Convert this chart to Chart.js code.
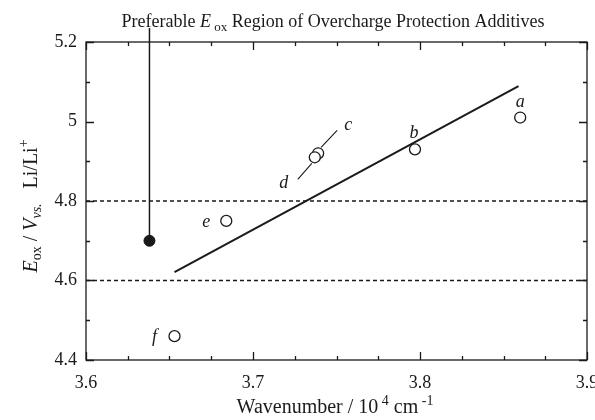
<!DOCTYPE html>
<html>
<head>
<meta charset="utf-8">
<script src="https://cdn.jsdelivr.net/npm/chart.js@4/dist/chart.umd.min.js"></script>
<style>
  html, body { margin: 0; padding: 0; background: #fff; }
  #wrap { width: 595px; height: 420px; }
</style>
</head>
<body>
<div id="wrap"><canvas id="eoxChart" width="595" height="420"></canvas></div>
<script>
// values
const additives = ['a', 'b', 'c', 'd', 'e', 'f'];
const wavenumber = [3.860, 3.797, 3.739, 3.737, 3.684, 3.653];
const eox = [5.01, 4.93, 4.92, 4.91, 4.75, 4.46];

const fitX = [3.653, 3.859];
const fitY = [4.621, 5.089];

const preferredX = [3.638];
const preferredY = [4.70];

const regionLimits = [4.8, 4.6];

const xTicks = [3.6, 3.7, 3.8, 3.9];
const xTickLabels = ['3.6', '3.7', '3.8', '3.9'];
const yTicks = [4.4, 4.6, 4.8, 5.0, 5.2];
const yTickLabels = ['4.4', '4.6', '4.8', '5', '5.2'];

const serif = '"Liberation Serif", "DejaVu Serif", serif';
const ink = '#1a1a1a';

// label offsets (px) from each open circle
const labelOffset = {
    a: [0, -15], b: [-1, -16], c: [30, -28], d: [-31, 26], e: [-20, 1], f: [-20, 1]
};

function drawRich(ctx, parts, x, y, align) {
    let w = 0;
    parts.forEach(p => {
        ctx.font = (p.i ? 'italic ' : '') + (p.s || 18) + 'px ' + serif;
        p.w = ctx.measureText(p.t).width;
        w += p.w;
    });
    let cx = align === 'center' ? x - w / 2 : x;
    parts.forEach(p => {
        ctx.font = (p.i ? 'italic ' : '') + (p.s || 18) + 'px ' + serif;
        ctx.fillText(p.t, cx, y + (p.dy || 0));
        cx += p.w;
    });
}

const decor = {
    id: 'decor',
    beforeDatasetsDraw(chart) {
        const { ctx, chartArea: a, scales: { x, y } } = chart;
        ctx.save();
        ctx.strokeStyle = ink;
        ctx.lineWidth = 1.3;
        // frame
        ctx.strokeRect(a.left, a.top, a.right - a.left, a.bottom - a.top);
        // inward ticks on all four sides
        ctx.beginPath();
        for (let i = 0; i <= 12; i++) {
            const v = 3.6 + i * 0.025;
            const px = Math.round(x.getPixelForValue(v)) + 0.5;
            const len = i % 4 === 0 ? 8 : 4;
            ctx.moveTo(px, a.bottom); ctx.lineTo(px, a.bottom - len);
            ctx.moveTo(px, a.top); ctx.lineTo(px, a.top + len);
        }
        for (let i = 0; i <= 8; i++) {
            const v = 4.4 + i * 0.1;
            const py = Math.round(y.getPixelForValue(v)) + 0.5;
            const len = i % 2 === 0 ? 8 : 4;
            ctx.moveTo(a.left, py); ctx.lineTo(a.left + len, py);
            ctx.moveTo(a.right, py); ctx.lineTo(a.right - len, py);
        }
        ctx.stroke();
        ctx.restore();
    },
    afterDatasetsDraw(chart) {
        const { ctx, chartArea: a, scales: { x, y } } = chart;
        ctx.save();
        ctx.fillStyle = ink;
        ctx.strokeStyle = ink;

        // leader from preferred point up to the heading
        ctx.lineWidth = 1.5;
        ctx.beginPath();
        const fx = x.getPixelForValue(preferredX[0]);
        ctx.moveTo(fx, y.getPixelForValue(preferredY[0]));
        ctx.lineTo(fx, 28);
        ctx.stroke();

        // point labels
        ctx.textAlign = 'center';
        ctx.textBaseline = 'middle';
        ctx.font = 'italic 18px ' + serif;
        additives.forEach((n, i) => {
            const px = x.getPixelForValue(wavenumber[i]);
            const py = y.getPixelForValue(eox[i]);
            const o = labelOffset[n];
            ctx.fillText(n, px + o[0], py + o[1]);
        });

        // leader lines for c and d
        ctx.lineWidth = 1.1;
        const cx = x.getPixelForValue(wavenumber[2]), cy = y.getPixelForValue(eox[2]);
        const dx = x.getPixelForValue(wavenumber[3]), dy = y.getPixelForValue(eox[3]);
        ctx.beginPath();
        ctx.moveTo(cx + 3, cy - 6); ctx.lineTo(cx + 19, cy - 23);
        ctx.moveTo(dx - 3, dy + 6); ctx.lineTo(dx - 17, dy + 22);
        ctx.stroke();

        // texts with sub/superscripts
        ctx.textAlign = 'left';
        ctx.textBaseline = 'alphabetic';
        drawRich(ctx, [
            { t: 'Preferable ' }, { t: 'E', i: true }, { t: ' ox', s: 13, dy: 4 },
            { t: ' Region of Overcharge Protection Additives' }
        ], 333, 27, 'center');

        drawRich(ctx, [
            { t: 'Wavenumber / 10', s: 20 }, { t: ' 4', s: 14, dy: -8 }, { t: ' cm', s: 20 }, { t: ' -1', s: 14, dy: -8 }
        ], 335, 413, 'center');

        ctx.translate(37, 206);
        ctx.rotate(-Math.PI / 2);
        drawRich(ctx, [
            { t: 'E', i: true, s: 20 }, { t: 'ox', s: 14, dy: 4 }, { t: ' / ', s: 20 }, { t: 'V', i: true, s: 20 },
            { t: 'vs.', i: true, s: 14, dy: 4 }, { t: '   Li/Li', s: 20 }, { t: '+', s: 14, dy: -9 }
        ], 0, 0, 'center');
        ctx.restore();
    }
};

const ctx = document.getElementById('eoxChart').getContext('2d');

const myChart = new Chart(ctx, {
    type: 'scatter',
    data: {
        datasets: [
            {
                label: 'additives',
                data: wavenumber.map((v, i) => ({ x: v, y: eox[i] })),
                pointRadius: 5.5,
                pointBorderWidth: 1.3,
                pointBackgroundColor: '#fff',
                pointBorderColor: ink,
                showLine: false
            },
            {
                label: 'preferred',
                data: preferredX.map((v, i) => ({ x: v, y: preferredY[i] })),
                pointRadius: 5.5,
                pointBackgroundColor: ink,
                pointBorderColor: ink,
                showLine: false
            },
            {
                label: 'fit',
                data: fitX.map((v, i) => ({ x: v, y: fitY[i] })),
                showLine: true,
                borderColor: ink,
                borderWidth: 2,
                pointRadius: 0,
                order: 2
            },
            ...regionLimits.map(v => ({
                label: 'limit ' + v,
                data: [{ x: 3.6, y: v }, { x: 3.9, y: v }],
                showLine: true,
                borderColor: ink,
                borderWidth: 1.3,
                borderDash: [4, 3],
                pointRadius: 0,
                order: 3
            }))
        ]
    },
    options: {
        responsive: false,
        animation: false,
        layout: { padding: { top: 42, right: 8, left: 0, bottom: 0 } },
        plugins: {
            legend: { display: false },
            tooltip: { enabled: false }
        },
        scales: {
            x: {
                type: 'linear',
                min: 3.6,
                max: 3.9,
                afterBuildTicks: s => { s.ticks = xTicks.map(v => ({ value: v })); },
                afterFit: s => { s.height = 60; s.paddingLeft = 0; s.paddingRight = 0; },
                grid: { display: false, drawTicks: false },
                border: { display: false },
                ticks: {
                    autoSkip: false,
                    maxRotation: 0,
                    padding: 12,
                    color: ink,
                    font: { family: serif, size: 18 },
                    callback: (v, i) => xTickLabels[i]
                }
            },
            y: {
                type: 'linear',
                min: 4.4,
                max: 5.2,
                afterBuildTicks: s => { s.ticks = yTicks.map(v => ({ value: v })); },
                afterFit: s => { s.width = 86; s.paddingTop = 0; s.paddingBottom = 0; },
                grid: { display: false, drawTicks: false },
                border: { display: false },
                ticks: {
                    autoSkip: false,
                    padding: 9,
                    color: ink,
                    font: { family: serif, size: 18 },
                    callback: (v, i) => yTickLabels[i]
                }
            }
        }
    },
    plugins: [decor]
});
</script>
</body>
</html>
